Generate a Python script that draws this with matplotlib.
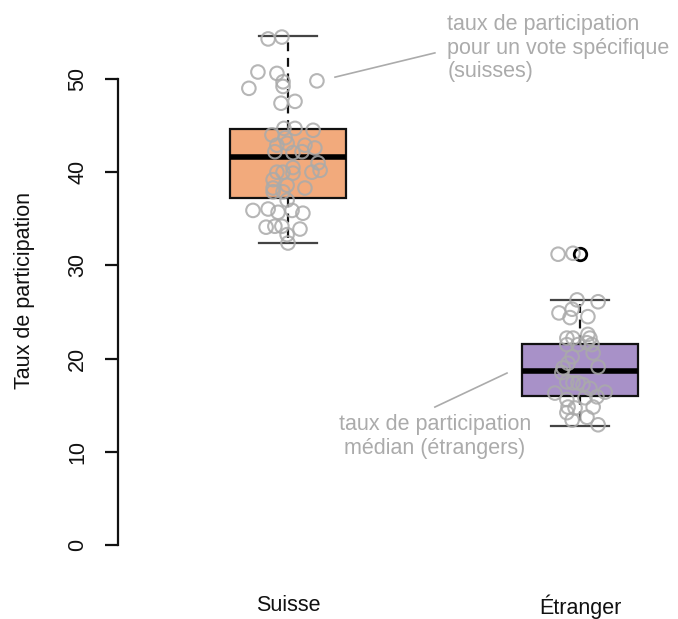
import matplotlib
matplotlib.use("Agg")
import matplotlib.pyplot as plt

plt.rcParams['font.family'] = ['Liberation Sans', 'DejaVu Sans']

categories = ["Suisse", "Étranger"]
box_colors = ["#F2AA7C", "#A891C8"]

# box statistics
whislo = [32.4, 12.8]
q1 = [37.2, 16.0]
med = [41.6, 18.7]
q3 = [44.6, 21.6]
whishi = [54.6, 26.3]
outliers = [[], [31.2]]

# jittered individual votes (x offset from category centre, value)
suisse_dx = [-0.068, -0.021, -0.103, -0.038, -0.017, -0.017, -0.134, 0.099, -0.024, 0.024,
             -0.014, 0.024, 0.086, -0.055, -0.010, -0.038, -0.003, 0.058, 0.092, -0.045,
             0.048, 0.017, 0.103, 0.017, -0.038, -0.017, 0.082, 0.110, 0.017, -0.051,
             -0.003, 0.058, -0.051, -0.051, -0.017, -0.003, -0.120, -0.068, -0.034, 0.014,
             0.051, -0.075, -0.045, -0.021, 0.041, -0.003, 0.000]
suisse_val = [54.3, 54.5, 50.75, 50.6, 49.7, 49.2, 49.0, 49.8, 47.4, 47.6,
              44.7, 44.7, 44.5, 44.0, 43.7, 42.9, 43.1, 42.9, 42.6, 42.2,
              42.2, 42.1, 41.0, 40.5, 40.0, 40.0, 40.0, 40.2, 39.9, 39.2,
              38.6, 38.3, 38.3, 37.9, 37.9, 37.0, 35.9, 36.05, 35.7, 35.9,
              35.6, 34.1, 34.2, 34.2, 33.9, 33.3, 32.4]

etranger_dx = [-0.075, -0.024, -0.010, 0.062, -0.072, -0.027, -0.034, 0.027, 0.027, -0.045,
               -0.024, 0.034, -0.045, -0.007, 0.024, 0.041, 0.045, -0.027, -0.041, 0.062,
               -0.058, -0.062, -0.045, -0.024, -0.007, 0.010, 0.034, 0.086, -0.086, -0.045,
               0.017, 0.058, -0.041, -0.017, 0.045, -0.045, 0.024, -0.027, 0.062]
etranger_val = [31.2, 31.3, 26.3, 26.1, 24.9, 25.3, 24.4, 24.5, 22.6, 22.2,
                22.2, 22.2, 21.5, 21.5, 21.7, 21.5, 20.6, 20.2, 19.5, 19.1,
                19.0, 18.5, 17.5, 17.4, 17.4, 17.2, 16.8, 16.4, 16.3, 15.6,
                15.8, 15.9, 14.8, 14.7, 14.8, 14.2, 13.7, 13.4, 12.9]

yticks = [0, 10, 20, 30, 40, 50]
ylabel = "Taux de participation"
note_top = "taux de participation\npour un vote spécifique\n(suisses)"
note_bottom = "taux de participation\nmédian (étrangers)"

W, H = 678, 619
fig = plt.figure(figsize=(W / 100, H / 100), dpi=100)
ax = fig.add_axes([118 / W, (H - 560) / H, 560 / W, 550 / H])

stats = []
for i in range(2):
    stats.append(dict(whislo=whislo[i], q1=q1[i], med=med[i], q3=q3[i],
                      whishi=whishi[i], fliers=outliers[i], label=categories[i]))

bp = ax.bxp(stats, positions=[1, 2], widths=0.4, patch_artist=True,
            boxprops=dict(linewidth=1.6, edgecolor="#111111"),
            medianprops=dict(color="black", linewidth=4.0, solid_capstyle="butt"),
            whiskerprops=dict(color="#111111", linewidth=1.6, linestyle=(0, (4, 3))),
            capprops=dict(color="#444444", linewidth=1.6),
            capwidths=0.2,
            flierprops=dict(marker="o", markersize=9, markerfacecolor="none",
                            markeredgecolor="black", markeredgewidth=2.0),
            zorder=2)
for patch, c in zip(bp["boxes"], box_colors):
    patch.set_facecolor(c)

ax.scatter([1 + d for d in suisse_dx], suisse_val, s=95, facecolors="none",
           edgecolors="#aaaaaa", linewidths=1.5, alpha=0.85, zorder=3)
ax.scatter([2 + d for d in etranger_dx], etranger_val, s=95, facecolors="none",
           edgecolors="#aaaaaa", linewidths=1.5, alpha=0.85, zorder=3)

ax.set_xlim(1 - 170 / 292, 2 + 98 / 292)
ax.set_ylim((545 - 560) / 9.32, (545 - 10) / 9.32)

for s in ["top", "right", "bottom"]:
    ax.spines[s].set_visible(False)
ax.spines["left"].set_bounds(0, 50)
ax.spines["left"].set_linewidth(1.6)
ax.spines["left"].set_color("#111111")

ax.set_yticks(yticks)
ax.set_yticklabels([str(t) for t in yticks], rotation=90, va="center")
ax.tick_params(axis="y", length=9.5, width=1.6, color="#111111", pad=12,
               labelsize=15.5, labelcolor="#111111")
ax.set_xticks([1, 2])
ax.set_xticklabels(categories)
ax.tick_params(axis="x", length=0, pad=25, labelsize=15.5, labelcolor="#111111")

fig.text(25 / W, 1 - 291 / H, ylabel, rotation=90, ha="center", va="center",
         fontsize=15.5, color="#111111")

grey = "#ababab"
ax.plot([1.161, 1.503], [50.2, 52.8], color=grey, linewidth=1.2, zorder=1)
ax.text(1.545, 53.3, note_top, ha="left", va="center", fontsize=15.5,
        color=grey, linespacing=1.15)
ax.plot([1.503, 1.75], [14.8, 18.45], color=grey, linewidth=1.2, zorder=1)
ax.text(1.503, 11.6, note_bottom, ha="center", va="center", fontsize=15.5,
        color=grey, linespacing=1.2)

fig.savefig("out.png", dpi=100)
